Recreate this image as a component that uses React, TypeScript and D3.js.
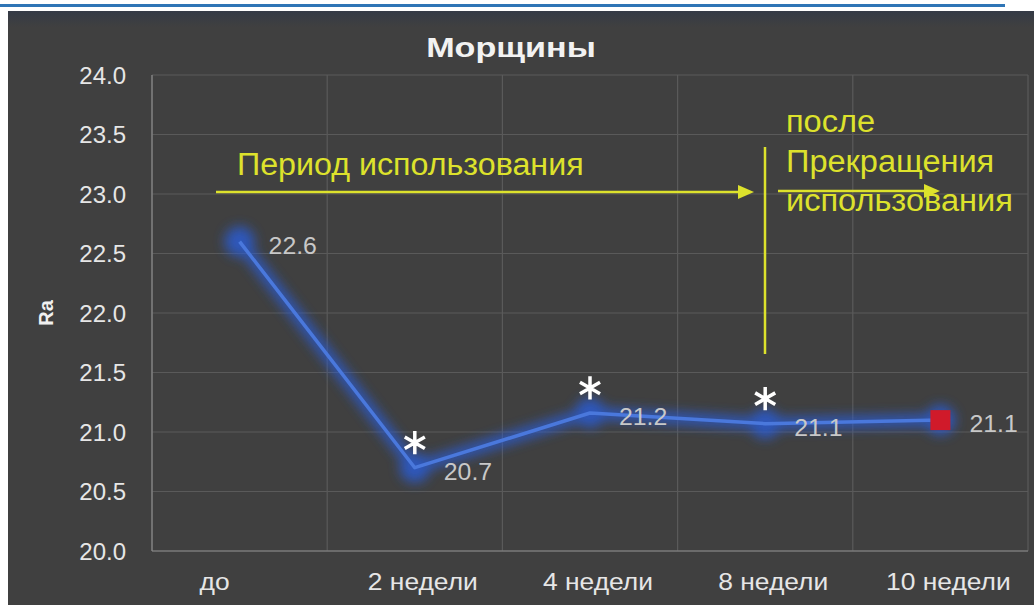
import React from "react";
import * as d3 from "d3";

const categories = ["до", "2 недели", "4 недели", "8 недели", "10 недели"];
const values = [22.6, 20.7, 21.16, 21.07, 21.1];
const significant = [false, true, true, true, false];
const yTicks = [20.0, 20.5, 21.0, 21.5, 22.0, 22.5, 23.0, 23.5, 24.0];
const title = "Морщины";
const yAxisTitle = "Ra";
const periodLabel = "Период использования";
const afterLabel = ["после", "Прекращения", "использования"];

const W = 1034;
const H = 605;
const left = 152;
const right = 1028;
const top = 75;
const bottom = 551;
const FONT = "'Liberation Sans', Arial, sans-serif";
const YELLOW = "#dde22c";

function SText(props: {
  x: number;
  y: number;
  sx?: number;
  size: number;
  fill: string;
  anchor?: string;
  weight?: string;
  children: React.ReactNode;
}) {
  const { x, y, sx = 1, size, fill, anchor = "start", weight = "normal", children } = props;
  return (
    <text
      transform={`translate(${x},${y}) scale(${sx},1)`}
      textAnchor={anchor}
      fill={fill}
      fontSize={size}
      fontWeight={weight}
      fontFamily={FONT}
    >
      {children}
    </text>
  );
}

export default function App() {
  const x = d3.scaleBand<string>().domain(categories).range([left, right]).padding(0);
  const y = d3.scaleLinear().domain([20, 24]).range([bottom, top]);
  const cx = (c: string) => (x(c) as number) + x.bandwidth() / 2;
  const pts: [number, number][] = categories.map((c, i) => [cx(c), y(values[i])]);
  const line = d3.line<[number, number]>()(pts) as string;
  const fmt = d3.format(".1f");
  const bandEdges = categories.map((c) => x(c) as number).concat([right]);
  const asterisk = d3.symbol().type(d3.symbolAsterisk).size(380)() as string;

  return (
    <div style={{ position: "absolute", left: 0, top: 0 }}>
      <svg width={W} height={H} style={{ display: "block" }}>
        <defs>
          <filter id="glow" x="-50%" y="-50%" width="200%" height="200%">
            <feGaussianBlur stdDeviation="6" />
          </filter>
          <linearGradient id="topband" x1="0" y1="0" x2="0" y2="1">
            <stop offset="0" stopColor="#343a46" />
            <stop offset="1" stopColor="#404040" />
          </linearGradient>
        </defs>
        <rect x={0} y={0} width={W} height={H} fill="#ffffff" />
        <rect x={0} y={4} width={1005} height={3} fill="#2e75b6" />
        <rect x={8} y={11} width={W - 8} height={H - 11} fill="#404040" />
        <rect x={8} y={11} width={W - 8} height={16} fill="url(#topband)" />

        {/* gridlines */}
        {yTicks.map((t) => (
          <line key={"h" + t} x1={left} x2={right} y1={y(t)} y2={y(t)} stroke="#5a5a5a" strokeWidth={1.2} />
        ))}
        {bandEdges.map((e, i) => (
          <line key={"v" + i} x1={e} x2={e} y1={top} y2={bottom} stroke="#5a5a5a" strokeWidth={1.2} />
        ))}
        <line x1={left} x2={left} y1={top} y2={bottom} stroke="#8a8a8a" strokeWidth={1.2} />
        <line x1={left} x2={right} y1={bottom} y2={bottom} stroke="#8a8a8a" strokeWidth={1.2} />

        {/* y tick labels */}
        {yTicks.map((t) => (
          <text key={"yl" + t} x={126} y={y(t) + 8.5} textAnchor="end" fill="#e6e6e6" fontSize={24} fontFamily={FONT}>
            {fmt(t)}
          </text>
        ))}
        <text transform={`translate(53,${(top + bottom) / 2}) rotate(-90)`} textAnchor="middle" fill="#f0f0f0" fontSize={20} fontWeight="bold" fontFamily={FONT}>
          {yAxisTitle}
        </text>

        {/* x labels */}
        {categories.map((c, i) => (
          <SText key={"xl" + c} x={cx(c) + (i === 0 ? -25 : 8)} y={590} sx={1.1} anchor="middle" size={24} fill="#e6e6e6">
            {c}
          </SText>
        ))}

        {/* title */}
        <SText x={511} y={57} sx={1.22} anchor="middle" size={28} weight="bold" fill="#f2f2f2">
          {title}
        </SText>

        {/* glow */}
        <g filter="url(#glow)" opacity={0.85}>
          <path d={line} fill="none" stroke="#2a5bd0" strokeWidth={12} />
          {pts.map((p, i) => (
            <circle key={"g" + i} cx={p[0]} cy={p[1]} r={15} fill="#2a5bd0" />
          ))}
        </g>
        <path d={line} fill="none" stroke="#4a78dc" strokeWidth={3.5} strokeLinejoin="round" />
        {pts.map((p, i) =>
          i === pts.length - 1 ? (
            <rect key={"m" + i} x={p[0] - 10} y={p[1] - 10} width={20} height={20} fill="#d01a2a" />
          ) : null
        )}

        {/* data labels */}
        {pts.map((p, i) => (
          <SText key={"dl" + i} x={p[0] + 29} y={p[1] + 12} sx={1.08} size={23} fill="#c8c8c8">
            {fmt(values[i])}
          </SText>
        ))}

        {/* significance asterisks */}
        {pts.map((p, i) =>
          significant[i] ? (
            <path
              key={"s" + i}
              d={asterisk}
              transform={`translate(${p[0]},${p[1] - 25})`}
              fill="none"
              stroke="#ffffff"
              strokeWidth={3.5}
            />
          ) : null
        )}

        {/* yellow annotations */}
        <SText x={237} y={175} sx={1.04} size={31} fill={YELLOW}>
          {periodLabel}
        </SText>
        <line x1={216} x2={740} y1={192} y2={192} stroke={YELLOW} strokeWidth={2.5} />
        <path d="M738,185 L754,192 L738,199 Z" fill={YELLOW} />
        <line x1={765} x2={765} y1={147} y2={354} stroke={YELLOW} strokeWidth={2.5} />
        {afterLabel.map((t, i) => (
          <SText key={"al" + i} x={786} y={132 + i * 39.5} sx={1.05} size={31} fill={YELLOW}>
            {t}
          </SText>
        ))}
        <line x1={778} x2={926} y1={191} y2={191} stroke={YELLOW} strokeWidth={2.5} />
        <path d="M924,184 L940,191 L924,198 Z" fill={YELLOW} />
      </svg>
    </div>
  );
}
